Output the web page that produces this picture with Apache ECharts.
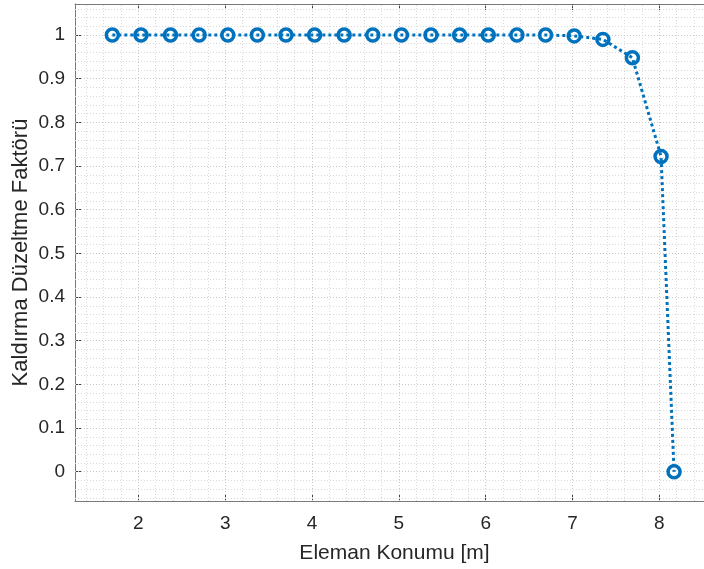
<!DOCTYPE html>
<html>
<head>
<meta charset="utf-8">
<script src="https://cdn.jsdelivr.net/npm/echarts@6/dist/echarts.min.js"></script>
<style>html,body{margin:0;padding:0;background:#fff;}#c{width:704px;height:569px;}</style>
</head>
<body>
<div id="c"></div>
<script>
// Data
var positions = [1.70, 2.03, 2.37, 2.70, 3.03, 3.37, 3.70, 4.03, 4.37, 4.70, 5.03, 5.37, 5.70, 6.03, 6.36, 6.69, 7.02, 7.35, 7.69, 8.02, 8.17];
var factors   = [1, 1, 1, 1, 1, 1, 1, 1, 1, 1, 1, 1, 1, 1, 1, 1, 0.998, 0.990, 0.948, 0.722, 0];
var xTicks = [2, 3, 4, 5, 6, 7, 8];
var yTicks = [0, 0.1, 0.2, 0.3, 0.4, 0.5, 0.6, 0.7, 0.8, 0.9, 1];
var xTitle = 'Eleman Konumu [m]';
var yTitle = 'Kaldırma Düzeltme Faktörü';

var XMIN = 1.27, XMAX = 8.63, YMIN = -0.067, YMAX = 1.071;
var FONT = '"Liberation Sans", Arial, Helvetica, sans-serif';
var TXT = '#262626';
var AX = '#7a7a7a';

function r(v){ return Math.round(v*1000)/1000; }
// grid lines (major + minor)
var majorLines = [], minorLines = [];
for (var i = 0; i <= 40; i++) {
  var xv = r(1.2 + i*0.2);
  if (xv <= XMIN || xv >= XMAX) continue;
  var isMajor = Math.abs(xv - Math.round(xv)) < 1e-6;
  (isMajor ? majorLines : minorLines).push({xAxis: xv});
}
for (var j = -5; j <= 55; j++) {
  var yv = r(j*0.02);
  if (yv <= YMIN || yv >= YMAX) continue;
  var isMaj = Math.abs(yv*10 - Math.round(yv*10)) < 1e-6;
  (isMaj ? majorLines : minorLines).push({yAxis: yv});
}

var chart = echarts.init(document.getElementById('c'), null, {renderer: 'canvas'});
var axisCommon = {
  type: 'value',
  axisLine: {show: true, onZero: false, lineStyle: {color: AX, width: 1}},
  splitLine: {show: false},
  minorSplitLine: {show: false}
};
chart.setOption({
  animation: false,
  backgroundColor: '#fff',
  grid: {left: 75, right: -10, top: 4, bottom: 68, containLabel: false, outerBoundsMode: 'none'},
  xAxis: [
    Object.assign({}, axisCommon, {
      position: 'bottom', min: XMIN, max: XMAX,
      name: xTitle, nameLocation: 'middle', nameGap: 42, nameMoveOverlap: false,
      nameTextStyle: {fontFamily: FONT, fontSize: 21, color: TXT},
      axisTick: {show: true, inside: true, length: 6, customValues: xTicks, lineStyle: {color: '#444'}},
      axisLabel: {show: true, customValues: xTicks, fontFamily: FONT, fontSize: 19, color: TXT, margin: 13}
    }),
    Object.assign({}, axisCommon, {
      position: 'top', min: XMIN, max: XMAX,
      axisTick: {show: true, inside: true, length: 6, customValues: xTicks, lineStyle: {color: '#444'}},
      axisLabel: {show: false}
    })
  ],
  yAxis: [
    Object.assign({}, axisCommon, {
      position: 'left', min: YMIN, max: YMAX,
      name: yTitle, nameLocation: 'middle', nameGap: 43, nameRotate: 90, nameMoveOverlap: false,
      nameTextStyle: {fontFamily: FONT, fontSize: 22, color: TXT},
      axisTick: {show: true, inside: true, length: 6, customValues: yTicks, lineStyle: {color: '#444'}},
      axisLabel: {show: true, customValues: yTicks, fontFamily: FONT, fontSize: 19, color: TXT, margin: 10,
        formatter: function(v){ return String(Math.round(v*10)/10); }}
    }),
    Object.assign({}, axisCommon, {
      position: 'right', min: YMIN, max: YMAX,
      axisTick: {show: true, inside: true, length: 6, customValues: yTicks},
      axisLabel: {show: false}
    })
  ],
  series: [
    {
      type: 'line', xAxisIndex: 0, yAxisIndex: 0, data: [], silent: true, z: 1,
      markLine: {
        silent: true, symbol: ['none', 'none'], label: {show: false}, animation: false,
        lineStyle: {color: '#d9d9d9', type: [1, 2], width: 1},
        emphasis: {disabled: true},
        data: minorLines
      }
    },
    {
      type: 'line', xAxisIndex: 0, yAxisIndex: 0, data: [], silent: true, z: 1,
      markLine: {
        silent: true, symbol: ['none', 'none'], label: {show: false}, animation: false,
        lineStyle: {color: '#c8c8c8', type: [1, 2], width: 1},
        emphasis: {disabled: true},
        data: majorLines
      }
    },
    {
      type: 'line', xAxisIndex: 0, yAxisIndex: 0, z: 5,
      data: positions.map(function(x, k){ return [x, factors[k]]; }),
      symbol: 'circle', symbolSize: 12, showSymbol: true,
      lineStyle: {color: '#0072BD', width: 3, type: [3, 3]},
      itemStyle: {color: 'rgba(255,255,255,0)', borderColor: '#0072BD', borderWidth: 3.5},
      emphasis: {disabled: true}
    }
  ]
});
</script>
</body>
</html>
